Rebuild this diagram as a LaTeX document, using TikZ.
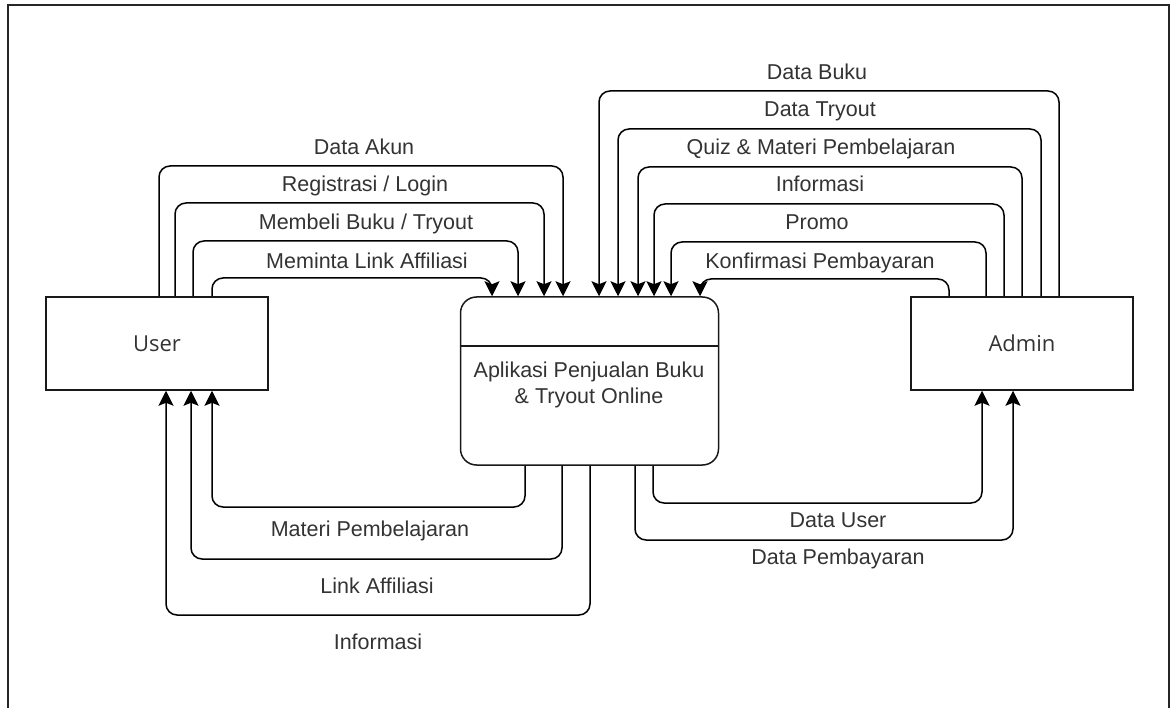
\documentclass[tikz,border=0pt]{standalone}
\usepackage{fontspec}
\setmainfont{Liberation Sans}
\newfontfamily\boxfont{Open Sans}
\usetikzlibrary{arrows.meta}
\begin{document}
\begin{tikzpicture}[x=1pt,y=-1pt,
  ent/.style={draw=black!90, line width=1.5pt, minimum width=222pt, minimum height=93pt, inner sep=0pt, font=\boxfont\fontsize{22}{26}\selectfont, text=black!80},
  proc/.style={draw=black!90, line width=1.5pt, rounded corners=16pt, minimum width=258pt, minimum height=168pt, inner sep=0pt},
  flow/.style={draw=black, line width=1.5pt, rounded corners=11pt, -{Stealth[length=15pt,width=15pt,inset=3pt]}},
  lbl/.style={inner sep=0pt, text height=15pt, text depth=0pt, font=\fontsize{21.5}{24}\selectfont, text=black!80}]
\useasboundingbox (0,0) rectangle (1170,708);
\draw[line width=2pt, black!85] (8,708) -- (8,5) -- (1169,5) -- (1169,708);

\node[ent] (user) at (157,343.5) {User};
\node[ent] (admin) at (1022,343.5) {Admin};
\node[proc] (app) at (589.5,381) {};
\node[inner sep=0pt, align=center, font=\fontsize{21.5}{27}\selectfont, text=black!80, anchor=base] (appname) at (589,404) {Aplikasi Penjualan Buku\\\& Tryout Online};
\draw[line width=1.5pt, black!90] (app.west |- 0,346) -- (app.east |- 0,346);

% user -> app (top left)
\draw[flow] (159,0 |- user.north) -- (159,166) -- (563,166) -- (563,0 |- app.north);
\draw[flow] (175,0 |- user.north) -- (175,203) -- (544,203) -- (544,0 |- app.north);
\draw[flow] (193,0 |- user.north) -- (193,241) -- (518,241) -- (518,0 |- app.north);
\draw[flow] (212,0 |- user.north) -- (212,278) -- (492,278) -- (492,0 |- app.north);
\node[lbl] (l1) at (364,147) {Data Akun};
\node[lbl] (l2) at (365,184) {Registrasi / Login};
\node[lbl] (l3) at (366,222) {Membeli Buku / Tryout};
\node[lbl] (l4) at (367,261) {Meminta Link Affiliasi};

% admin -> app (top right)
\draw[flow] (1059,0 |- admin.north) -- (1059,91) -- (599,91) -- (599,0 |- app.north);
\draw[flow] (1041,0 |- admin.north) -- (1041,129) -- (618,129) -- (618,0 |- app.north);
\draw[flow] (1022,0 |- admin.north) -- (1022,167) -- (638,167) -- (638,0 |- app.north);
\draw[flow] (1004,0 |- admin.north) -- (1004,204) -- (654,204) -- (654,0 |- app.north);
\draw[flow] (986,0 |- admin.north) -- (986,242) -- (671,242) -- (671,0 |- app.north);
\draw[flow] (949,0 |- admin.north) -- (949,279) -- (700,279) -- (700,0 |- app.north);
\node[lbl] (r1) at (817,72) {Data Buku};
\node[lbl] (r2) at (820,109) {Data Tryout};
\node[lbl] (r3) at (821,147) {Quiz \& Materi Pembelajaran};
\node[lbl] (r4) at (820,184) {Informasi};
\node[lbl] (r5) at (817,222) {Promo};
\node[lbl] (r6) at (820,261) {Konfirmasi Pembayaran};

% app -> user (bottom left)
\draw[flow] (525,0 |- app.south) -- (525,507) -- (212,507) -- (212,0 |- user.south);
\draw[flow] (562,0 |- app.south) -- (562,559) -- (191,559) -- (191,0 |- user.south);
\draw[flow] (590,0 |- app.south) -- (590,615) -- (166,615) -- (166,0 |- user.south);
\node[lbl] (b1) at (370,529) {Materi Pembelajaran};
\node[lbl] (b2) at (377,586) {Link Affiliasi};
\node[lbl] (b3) at (378,642) {Informasi};

% app -> admin (bottom right)
\draw[flow] (653,0 |- app.south) -- (653,503) -- (982,503) -- (982,0 |- admin.south);
\draw[flow] (635,0 |- app.south) -- (635,540) -- (1013,540) -- (1013,0 |- admin.south);
\node[lbl] (d1) at (838,520) {Data User};
\node[lbl] (d2) at (838,557) {Data Pembayaran};
\end{tikzpicture}
\end{document}
